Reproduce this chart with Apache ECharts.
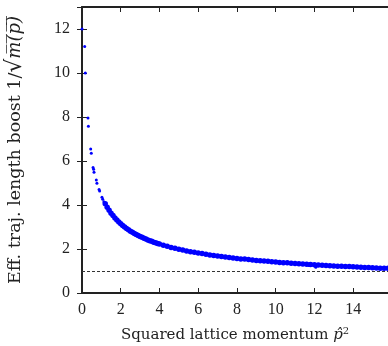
<!DOCTYPE html>
<html>
<head>
<meta charset="utf-8">
<script src="https://cdn.jsdelivr.net/npm/echarts@6/dist/echarts.min.js"></script>
<style>html,body{margin:0;padding:0;background:#fff}#c{width:388px;height:346px}</style>
</head>
<body>
<div id="c"></div>
<script>
// Data
var xTicks = [0, 2, 4, 6, 8, 10, 12, 14];
var yTicks = [0, 2, 4, 6, 8, 10, 12];
var sparseX = [0.00, 0.14, 0.17, 0.31, 0.33, 0.45, 0.48, 0.57, 0.60, 0.62, 0.74, 0.77, 0.88, 0.91, 1.03, 1.07, 1.13];
var sparseY = [12.0, 11.2, 10.0, 7.95, 7.58, 6.55, 6.35, 5.71, 5.62, 5.49, 5.14, 4.99, 4.71, 4.64, 4.35, 4.26, 4.15];
var denseX = [1.2,1.3,1.4,1.5,1.6,1.7,1.8,1.9,2.0,2.1,2.2,2.3,2.4,2.5,2.6,2.7,2.8,2.9,3.0,3.1,3.2,3.3,3.4,3.5,3.6,3.7,3.8,3.9,4.0,
  4.2,4.4,4.6,4.8,5.0,5.2,5.4,5.6,5.8,6.0,6.2,6.4,6.6,6.8,7.0,7.2,7.4,7.6,7.8,8.0,8.2,8.4,8.6,8.8,9.0,9.2,9.4,9.6,9.8,10.0,
  10.2,10.4,10.6,10.8,11.0,11.2,11.4,11.6,11.8,12.0,12.2,12.4,12.6,12.8,13.0,13.2,13.4,13.6,13.8,14.0,14.2,14.4,14.6,14.8,15.0,15.2,15.4,15.6,15.8];
var denseY = [4.06,3.90,3.76,3.63,3.52,3.41,3.32,3.23,3.15,3.07,3.00,2.93,2.87,2.81,2.76,2.71,2.66,2.61,2.57,2.53,2.49,2.45,2.41,2.38,2.35,2.31,2.28,2.25,2.23,
  2.17,2.12,2.07,2.03,1.99,1.95,1.91,1.88,1.85,1.82,1.79,1.76,1.73,1.71,1.68,1.66,1.64,1.61,1.59,1.57,1.55,1.54,1.52,1.50,1.48,1.47,1.45,1.44,1.42,1.41,
  1.39,1.38,1.37,1.35,1.34,1.33,1.32,1.31,1.30,1.28,1.27,1.26,1.25,1.24,1.23,1.22,1.22,1.21,1.20,1.19,1.18,1.17,1.16,1.16,1.15,1.14,1.13,1.13,1.12];
var outlierX = [12.07, 11.7];
var outlierY = [1.17, 1.25];
var refLine = 1;
var xMax = 15.8;
var yMax = 13;

function zip(a, b) { return a.map(function (v, i) { return [v, b[i]]; }); }

var font = 'Liberation Serif';
var nameFont = 'DejaVu Serif';
var ink = '#222';
var chart = echarts.init(document.getElementById('c'), null, {renderer: 'canvas'});
var axisCommon = {
  type: 'value', min: 0, interval: 2,
  axisLine: {show: true, onZero: false, lineStyle: {color: ink, width: 2}},
  axisTick: {show: true, inside: true, length: 5, lineStyle: {color: ink, width: 1}},
  splitLine: {show: false}
};
chart.setOption({
  animation: false,
  grid: {left: 82, right: 0, top: 7, bottom: 53, containLabel: false, outerBoundsMode: 'none'},
  xAxis: [
    Object.assign({}, axisCommon, {
      position: 'bottom', max: xMax,
      axisLabel: {fontFamily: font, fontSize: 16, color: ink, margin: 9, showMaxLabel: false,
        formatter: function (v) { return xTicks.indexOf(v) >= 0 ? String(v) : ''; }},
      name: '{a|Squared lattice momentum }{i|p̂}{s|2}',
      nameLocation: 'middle', nameGap: 33,
      nameTextStyle: {rich: {
        a: {fontFamily: nameFont, fontSize: 15, color: ink},
        i: {fontFamily: nameFont, fontSize: 15, fontStyle: 'italic', color: ink},
        s: {fontFamily: nameFont, fontSize: 10, color: ink, verticalAlign: 'top', padding: [0, 0, 8, 0]}
      }}
    }),
    Object.assign({}, axisCommon, {position: 'top', max: xMax, axisLabel: {show: false}})
  ],
  yAxis: [
    Object.assign({}, axisCommon, {
      position: 'left', max: yMax,
      axisLabel: {fontFamily: font, fontSize: 16, color: ink, margin: 12, showMaxLabel: false,
        formatter: function (v) { return yTicks.indexOf(v) >= 0 ? String(v) : ''; }},
      name: '{a|Eff. traj. length boost 1/}{r|√}{i|m̅(̅p̅)̅}',
      nameLocation: 'middle', nameGap: 56, nameRotate: 90,
      nameTextStyle: {rich: {
        a: {fontFamily: nameFont, fontSize: 17.5, color: ink},
        r: {fontFamily: nameFont, fontSize: 22, color: ink},
        i: {fontFamily: nameFont, fontSize: 18, fontStyle: 'italic', color: ink}
      }}
    }),
    Object.assign({}, axisCommon, {position: 'right', max: yMax, axisLabel: {show: false},
      axisLine: {show: false}})
  ],
  series: [
    {type: 'scatter', data: zip(sparseX, sparseY), symbolSize: 3, itemStyle: {color: '#0000ff', opacity: 1}, clip: true},
    {type: 'scatter', data: zip(denseX, denseY), symbolSize: 5.5, itemStyle: {color: '#0000ff', opacity: 1}, clip: true,
      markLine: {symbol: 'none', silent: true, label: {show: false},
        lineStyle: {type: [3, 2], color: '#333', width: 1}, data: [{yAxis: refLine}]}},
    {type: 'scatter', data: zip(outlierX, outlierY), symbolSize: 3, itemStyle: {color: '#0000ff', opacity: 1}, clip: true}
  ]
});
</script>
</body>
</html>
